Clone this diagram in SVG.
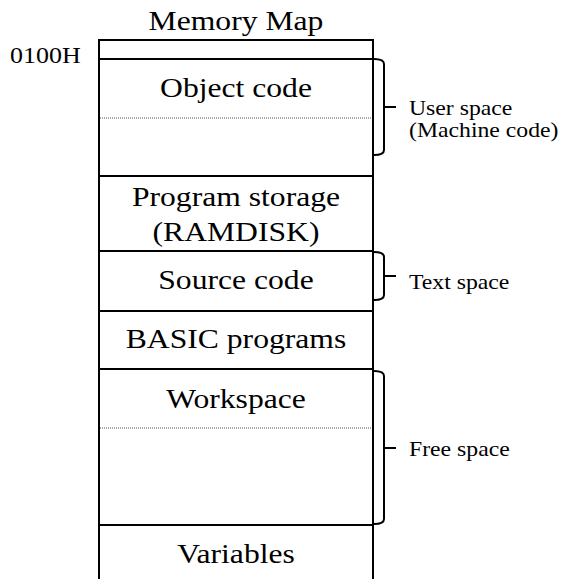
<svg xmlns="http://www.w3.org/2000/svg" width="561" height="579" viewBox="0 0 561 579">
<style>
.t{font-family:"Liberation Serif","Times New Roman",serif;font-size:28px;fill:#000;text-anchor:middle;transform-box:fill-box;transform-origin:center;transform:scaleX(1.13)}
.s{font-family:"Liberation Serif","Times New Roman",serif;font-size:21px;fill:#000;transform-box:fill-box;transform-origin:left center;transform:scaleX(1.13)}
.ln{stroke:#000;stroke-width:2;fill:none}
.dot{stroke:#555;stroke-width:1;stroke-dasharray:1 1;fill:none}
.br{stroke:#000;stroke-width:2;fill:none}
</style>
<rect width="561" height="579" fill="#fff"/>
<text class="t" x="236" y="30">Memory Map</text>
<text class="s" x="10" y="63" style="font-size:23px">0100H</text>
<g id="map">
<path class="ln" d="M99,590 V40 H373 V590"/>
</g>
<g id="top"><line class="ln" x1="99" y1="59" x2="373" y2="59"/></g>
<g id="object">
<text class="t" x="236" y="97">Object code</text>
<line class="dot" x1="100" y1="118" x2="372" y2="118"/>
<line class="ln" x1="99" y1="176" x2="373" y2="176"/>
</g>
<g id="storage">
<text class="t" x="236" y="206">Program storage</text>
<text class="t" x="236" y="241">(RAMDISK)</text>
<line class="ln" x1="99" y1="251" x2="373" y2="251"/>
</g>
<g id="source">
<text class="t" x="236" y="289">Source code</text>
<line class="ln" x1="99" y1="311" x2="373" y2="311"/>
</g>
<g id="basic">
<text class="t" x="236" y="348">BASIC programs</text>
<line class="ln" x1="99" y1="369" x2="373" y2="369"/>
</g>
<g id="workspace">
<text class="t" x="236" y="408">Workspace</text>
<line class="dot" x1="100" y1="428" x2="372" y2="428"/>
<line class="ln" x1="99" y1="525" x2="373" y2="525"/>
</g>
<g id="variables">
<text class="t" x="236" y="563">Variables</text>
</g>
<g id="connectors">
<path class="br" d="M374,59 Q384,59 384,64 V150 Q384,155 374,155 M384,107 H396"/>
<path class="br" d="M374,252 Q384,252 384,257 V295 Q384,300 374,300 M384,276 H396"/>
<path class="br" d="M374,371 Q384,371 384,376 V519 Q384,524 374,524 M384,448 H396"/>
</g>
<g id="labels">
<text class="s" x="409" y="115">User space</text>
<text class="s" x="409" y="137">(Machine code)</text>
<text class="s" x="409" y="289">Text space</text>
<text class="s" x="409" y="456">Free space</text>
</g>
</svg>
